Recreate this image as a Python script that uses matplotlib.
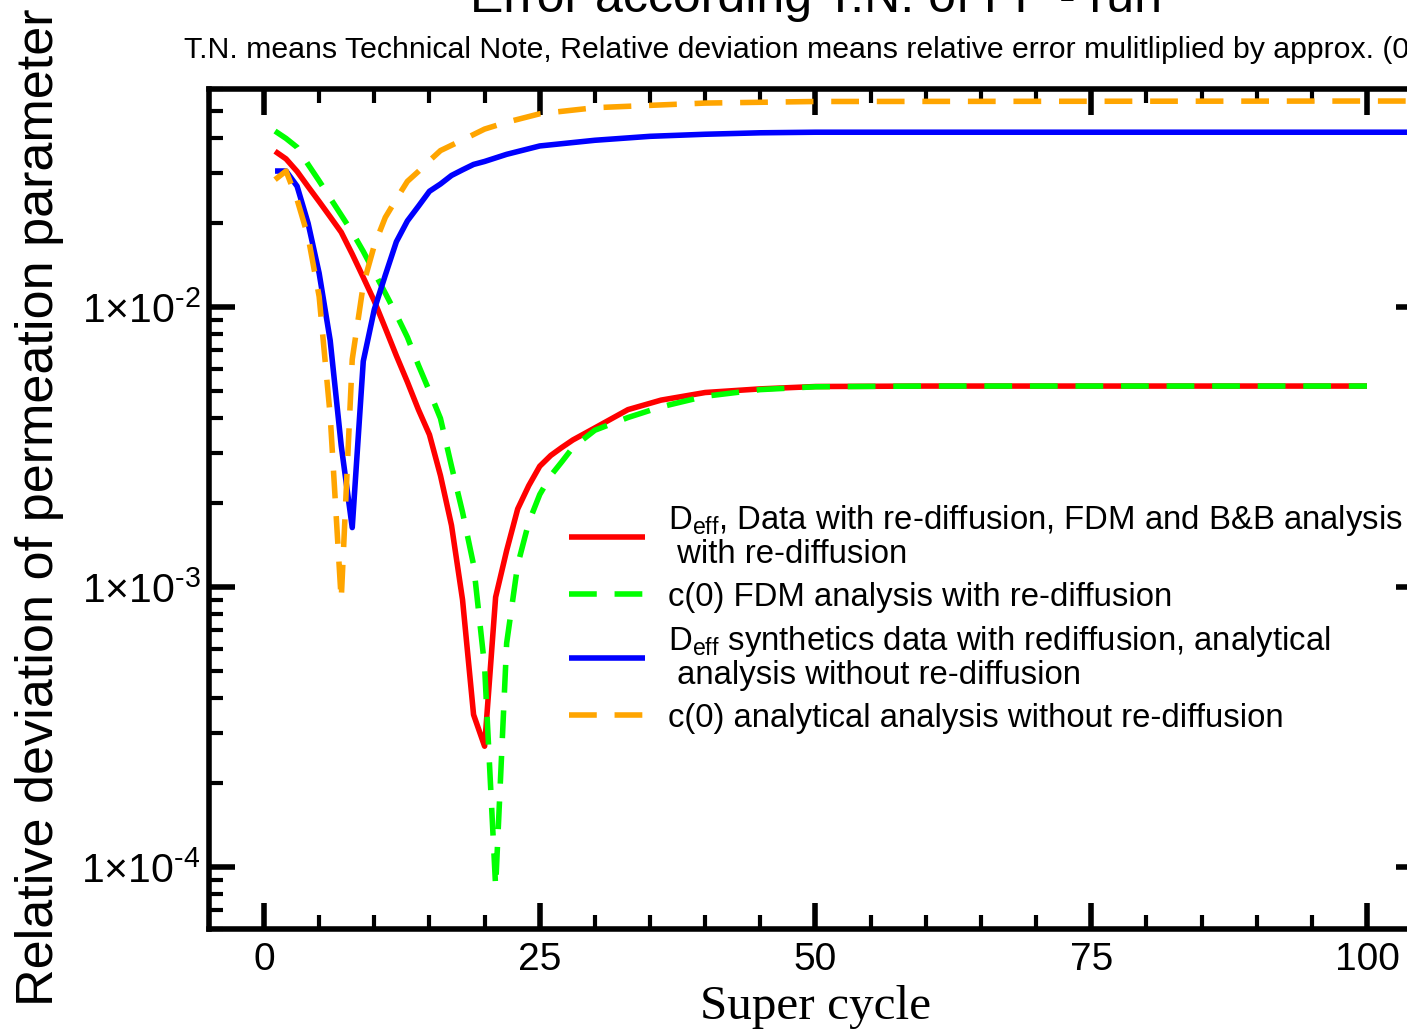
import numpy as np
import matplotlib
matplotlib.use('Agg')
import matplotlib.pyplot as plt
from matplotlib import ticker

# super cycle vs relative deviation
red_x = [1, 2, 3, 4, 5, 6, 7, 8, 9, 10, 11, 12, 13, 14, 15, 16, 17, 18, 19, 20,
         21, 22, 23, 24, 25, 26, 27, 28, 30, 33, 36, 40, 45, 50, 60, 100]
red_y = [0.036, 0.0338, 0.0305, 0.0269, 0.0238, 0.0210, 0.0185, 0.01545, 0.01276, 0.0105,
         0.0084, 0.0067, 0.0054, 0.0043, 0.0035, 0.0025, 0.00166, 0.0009, 0.00035, 0.00027,
         0.00092, 0.00135, 0.0019, 0.0023, 0.0027, 0.00295, 0.00315, 0.00335, 0.0037, 0.0043,
         0.00465, 0.00495, 0.0051, 0.0052, 0.00522, 0.00522]

green_x = [1, 2, 3, 4, 5, 6, 7, 8, 9, 10, 11, 12, 13, 14, 15, 16, 17, 18, 19, 20,
           21, 22, 23, 24, 25, 26, 27, 28, 30, 33, 36, 40, 45, 50, 60, 100]
green_y = [0.0425, 0.040, 0.0372, 0.0323, 0.0282, 0.0245, 0.0213, 0.0185, 0.0158, 0.0133,
           0.0112, 0.0094, 0.0078, 0.0062, 0.0050, 0.0040, 0.0027, 0.00185, 0.0012, 0.00052,
           0.000085, 0.00063, 0.0012, 0.0017, 0.00214, 0.0025, 0.0028, 0.00315, 0.00363, 0.00403,
           0.0044, 0.0048, 0.00507, 0.00519, 0.00522, 0.00522]

blue_x = [1, 2, 3, 4, 5, 6, 7, 8, 9, 10, 11, 12, 13, 14, 15, 16, 17, 18, 19, 20,
          22, 25, 30, 35, 40, 45, 50, 100, 110]
blue_y = [0.0306, 0.0306, 0.027, 0.0199, 0.0132, 0.0076, 0.0032, 0.00163, 0.0064, 0.0098,
          0.0130, 0.0171, 0.0203, 0.0229, 0.0259, 0.0275, 0.0295, 0.0309, 0.0323, 0.0331,
          0.0351, 0.0376, 0.0394, 0.0407, 0.0414, 0.0419, 0.0421, 0.0421, 0.0421]

orange_x = [1, 2, 3, 4, 5, 6, 7, 8, 9, 10, 11, 12, 13, 14, 15, 16, 18, 20,
            22, 25, 30, 35, 40, 50, 100, 110]
orange_y = [0.0285, 0.0306, 0.0242, 0.0178, 0.0109, 0.0041, 0.0009, 0.0065, 0.0120, 0.0166,
            0.0209, 0.0243, 0.0281, 0.0305, 0.0333, 0.0362, 0.0395, 0.0432,
            0.0457, 0.049, 0.0515, 0.0525, 0.0535, 0.0542, 0.0544, 0.0544]

labels = [r'D$_{\mathregular{eff}}$, Data with re-diffusion, FDM and B&B analysis' + '\n with re-diffusion',
          'c(0) FDM analysis with re-diffusion',
          r'D$_{\mathregular{eff}}$ synthetics data with rediffusion, analytical' + '\n analysis without re-diffusion',
          'c(0) analytical analysis without re-diffusion']

title = 'Error according T.N. of FF - run'
subtitle = 'T.N. means Technical Note, Relative deviation means relative error mulitliplied by approx. (0.1 - 1)'

plt.rcParams['font.family'] = ['Liberation Sans', 'DejaVu Sans']
plt.rcParams['mathtext.fontset'] = 'custom'
plt.rcParams['mathtext.rm'] = 'Liberation Sans'
plt.rcParams['mathtext.it'] = 'Liberation Sans:italic'
plt.rcParams['mathtext.bf'] = 'Liberation Sans:bold'

fig = plt.figure(figsize=(14.07, 10.29), dpi=100)
# axes run a bit past the right edge, like the cropped original
ax = fig.add_axes([0.14844, 0.09708, 0.8623, 0.8163])

lw = 4
dash = (5.0, 3.2)
ax.plot(red_x, red_y, color='#ff0000', lw=lw, solid_capstyle='butt', label=labels[0])
ax.plot(green_x, green_y, color='#00ff00', lw=lw, dashes=dash, label=labels[1])
ax.plot(blue_x, blue_y, color='#0000ff', lw=lw, solid_capstyle='butt', label=labels[2])
ax.plot(orange_x, orange_y, color='#ffa500', lw=lw, dashes=dash, label=labels[3])

ax.set_yscale('log')
ax.set_xlim(-5, 105)
ax.set_ylim(6e-5, 6e-2)

ax.xaxis.set_major_locator(ticker.MultipleLocator(25))
ax.xaxis.set_minor_locator(ticker.MultipleLocator(5))
ax.yaxis.set_major_locator(ticker.LogLocator(base=10, numticks=10))
ax.yaxis.set_minor_locator(ticker.LogLocator(base=10, subs=range(2, 10), numticks=10))
ax.yaxis.set_minor_formatter(ticker.NullFormatter())


def sci_label(v, pos):
    e = int(round(np.log10(v)))
    return '1\u00d710$^{\\text{%d}}$' % e


ax.yaxis.set_major_formatter(ticker.FuncFormatter(sci_label))

for s in ax.spines.values():
    s.set_linewidth(4)
ax.tick_params(which='both', direction='in', top=True, right=True, labelsize=28)
ax.tick_params(axis='y', labelsize=29.5)
ax.tick_params(which='major', length=19, width=4)
ax.tick_params(which='minor', length=10, width=3)
ax.tick_params(axis='x', pad=9)
ax.tick_params(axis='y', pad=6)

ax.set_xlabel('Super cycle', family='Liberation Serif', fontsize=35.5, labelpad=5)
fig.text(40 / 1407, 0.507, 'Relative deviation of permeation parameter',
         rotation=90, ha='center', va='center', fontsize=37.5)
fig.text(816 / 1407, 1 - 12 / 1029, title, ha='center', va='baseline', fontsize=36)
fig.text(184 / 1407, 1 - 58 / 1029, subtitle, ha='left', va='baseline', fontsize=21.8)

leg = ax.legend(loc='upper left', bbox_to_anchor=(569 / 1407, 1 - 503 / 1029),
                bbox_transform=fig.transFigure, frameon=False, fontsize=23.7,
                handlelength=2.3, handletextpad=0.72, labelspacing=0.35,
                borderpad=0, borderaxespad=0)
for t in leg.get_texts():
    t.set_linespacing(1.05)

fig.savefig('out.png', dpi=100)
